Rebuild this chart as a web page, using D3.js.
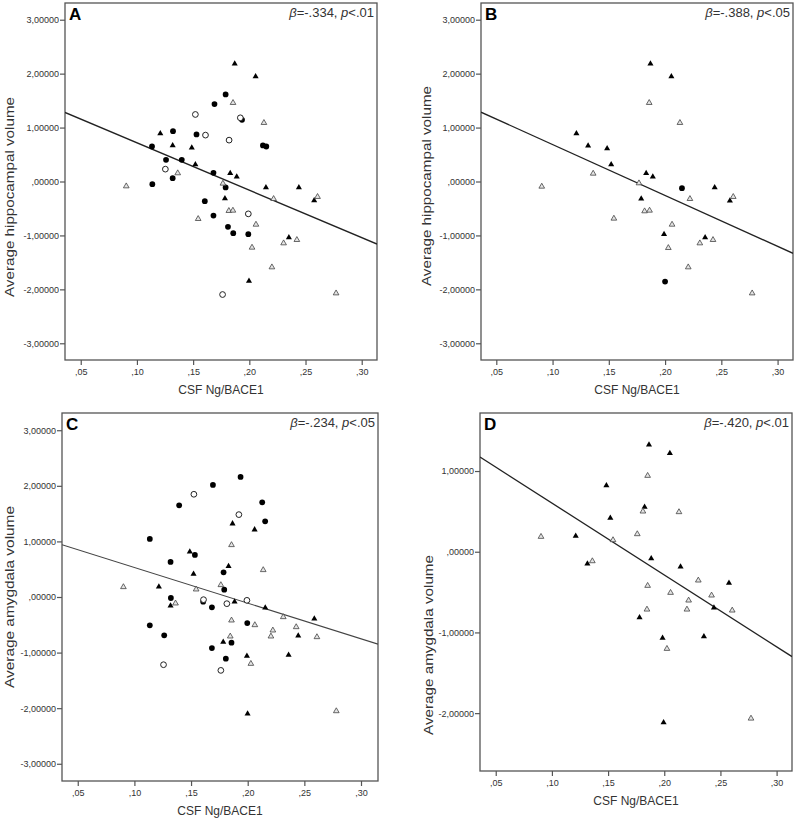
<!DOCTYPE html>
<html><head><meta charset="utf-8">
<script src="https://cdn.jsdelivr.net/npm/d3@7"></script>
<style>body{margin:0;background:#fff}svg{display:block}text{font-family:"Liberation Sans",Arial,sans-serif}</style>
</head><body><svg id="c" width="797" height="818"></svg>
<script>
// ---- data ----
const xTicks = [0.05, 0.10, 0.15, 0.20, 0.25, 0.30];
const xTickLabels = [",05", ",10", ",15", ",20", ",25", ",30"];
const yTicksWide = [3, 2, 1, 0, -1, -2, -3];
const yTickLabelsWide = ["3,00000", "2,00000", "1,00000", ",00000", "-1,00000", "-2,00000", "-3,00000"];
const yTicksD = [1, 0, -1, -2];
const yTickLabelsD = ["1,00000", ",00000", "-1,00000", "-2,00000"];
const panelLetters = ["A", "B", "C", "D"];
const betaValues = ["-.334", "-.388", "-.234", "-.420"];
const pValues = ["<.01", "<.05", "<.05", "<.01"];
const yTitles = ["Average hippocampal volume", "Average hippocampal volume", "Average amygdala volume", "Average amygdala volume"];
const xTitle = "CSF Ng/BACE1";
// fitted lines: intercept, slope
const fitIntercept = [1.5965, 1.6286, 1.1713, 1.493];
const fitSlope = [-8.791, -9.437, -6.410, -8.901];

// groups: ft = filled triangle, fc = filled circle, oc = open circle, ot = open triangle
const aX = [0.187,0.2056,0.1208,0.1318,0.1488,0.152,0.183,0.1888,0.1783,0.2148,0.2441,0.2577,0.2352,0.1997,
  0.1789,0.169,0.1935,0.1321,0.153,0.1134,0.2121,0.2151,0.1259,0.1399,0.1318,0.1681,0.1137,0.1789,0.1604,0.1681,0.181,0.1857,0.1991,
  0.152,0.192,0.161,0.182,0.1253,0.1991,0.1762,
  0.1855,0.213,0.1363,0.0905,0.1765,0.2216,0.2607,0.1818,0.1854,0.1545,0.2059,0.2305,0.2423,0.2024,0.2201,0.2772];
const aY = [2.183,1.948,0.891,0.668,0.625,0.315,0.155,0.087,-0.315,-0.111,-0.111,-0.352,-1.039,-1.843,
  1.614,1.435,1.144,0.934,0.872,0.649,0.668,0.649,0.402,0.402,0.062,0.161,-0.049,-0.111,-0.365,-0.631,-0.841,-0.959,-0.977,
  1.243,1.181,0.860,0.767,0.229,-0.600,-2.096,
  1.459,1.088,0.155,-0.087,-0.037,-0.322,-0.284,-0.544,-0.538,-0.693,-0.798,-1.144,-1.082,-1.224,-1.589,-2.072];
const aGroup = [].concat(Array(14).fill("ft"), Array(19).fill("fc"), Array(7).fill("oc"), Array(16).fill("ot"));

const bX = [0.1212,0.1316,0.1485,0.1521,0.187,0.2056,0.1832,0.1891,0.2441,0.2576,0.1788,0.1991,0.2356,
  0.215,0.20,
  0.1361,0.0904,0.1545,0.1859,0.2132,0.1768,0.2221,0.2606,0.1818,0.1862,0.2062,0.2309,0.2426,0.2029,0.2206,0.2774];
const bY = [0.891,0.662,0.612,0.315,2.183,1.948,0.155,0.087,-0.111,-0.359,-0.322,-0.977,-1.039,
  -0.124,-1.855,
  0.148,-0.093,-0.686,1.459,1.088,-0.031,-0.322,-0.284,-0.550,-0.538,-0.798,-1.144,-1.082,-1.231,-1.589,-2.072];
const bGroup = [].concat(Array(13).fill("ft"), Array(2).fill("fc"), Array(16).fill("ot"));

const cX = [0.1693,0.1395,0.1136,0.1534,0.1319,0.1787,0.1793,0.1322,0.1607,0.1684,0.1136,0.1263,0.1857,0.1684,0.1807,0.1937,0.2128,0.2154,0.1996,
  0.1525,0.161,0.1816,0.1257,0.1763,0.1922,0.1993,
  0.1866,0.1489,0.1831,0.1522,0.1216,0.1319,0.1884,0.1784,0.2061,0.2155,0.2588,0.2446,0.1993,0.2361,0.1999,
  0.1857,0.1763,0.1545,0.0903,0.1363,0.1857,0.1846,0.2137,0.2314,0.2063,0.2222,0.2205,0.2428,0.2611,0.2028,0.2782];
const cY = [2.016,1.650,1.044,0.756,0.630,0.444,0.132,-0.018,-0.084,-0.186,-0.510,-0.690,-0.822,-0.918,-1.110,2.160,1.704,1.362,-0.468,
  1.848,-0.048,-0.120,-1.218,-1.320,1.482,-0.060,
  1.320,0.816,0.552,0.414,0.186,-0.156,-0.084,-0.810,1.212,-0.192,-0.390,-0.696,-1.062,-1.044,-2.100,
  0.936,0.216,0.138,0.180,-0.114,-0.420,-0.708,0.486,-0.360,-0.504,-0.600,-0.708,-0.540,-0.720,-1.200,-2.052];
const cGroup = [].concat(Array(19).fill("fc"), Array(7).fill("oc"), Array(15).fill("ft"), Array(16).fill("ot"));

const dX = [0.1485,0.152,0.1212,0.1316,0.1864,0.205,0.1825,0.1884,0.2145,0.2576,0.2442,0.178,0.1985,0.2353,0.1994,
  0.0903,0.1544,0.136,0.1852,0.181,0.2131,0.176,0.2303,0.1852,0.2056,0.2421,0.2217,0.1846,0.2202,0.2605,0.2024,0.2772];
const dY = [0.822,0.417,0.194,-0.149,1.326,1.219,0.554,-0.083,-0.186,-0.388,-0.694,-0.814,-1.070,-1.050,-2.116,
  0.186,0.145,-0.116,0.942,0.500,0.492,0.219,-0.355,-0.421,-0.508,-0.541,-0.603,-0.715,-0.715,-0.727,-1.202,-2.066];
const dGroup = [].concat(Array(15).fill("ft"), Array(17).fill("ot"));

// ---- layout ----
const panels = [
  {x0:65, x1:377, y0:3, y1:360, xd:[0.036,0.3136], yd:[-3.31,3.31], yt:yTicksWide, ytl:yTickLabelsWide, X:aX, Y:aY, G:aGroup, titleX:14, titleY:197, titleLen:200},
  {x0:481, x1:793, y0:3, y1:360, xd:[0.0364,0.3137], yd:[-3.31,3.31], yt:yTicksWide, ytl:yTickLabelsWide, X:bX, Y:bY, G:bGroup, titleX:431, titleY:186, titleLen:200},
  {x0:62, x1:378, y0:413, y1:781, xd:[0.0361,0.315], yd:[-3.31,3.31], yt:yTicksWide, ytl:yTickLabelsWide, X:cX, Y:cY, G:cGroup, titleX:14, titleY:597, titleLen:182},
  {x0:480, x1:792, y0:413, y1:771, xd:[0.036,0.3137], yd:[-2.717,1.719], yt:yTicksD, ytl:yTickLabelsD, X:dX, Y:dY, G:dGroup, titleX:433, titleY:645, titleLen:180}
];

const svg = d3.select("#c");
svg.append("rect").attr("width",797).attr("height",818).attr("fill","#fff");
const frameColor = "#555";
const textColor = "#333";

const triangle = d3.symbol().type(d3.symbolTriangle).size(16);
const openTriangle = d3.symbol().type(d3.symbolTriangle).size(14);
const circle = d3.symbol().type(d3.symbolCircle).size(26);

panels.forEach((p, i) => {
  const x = d3.scaleLinear().domain(p.xd).range([p.x0, p.x1]);
  const y = d3.scaleLinear().domain(p.yd).range([p.y1, p.y0]);
  const g = svg.append("g");
  const clipId = "clip" + i;
  g.append("clipPath").attr("id", clipId).append("rect")
    .attr("x", p.x0).attr("y", p.y0).attr("width", p.x1 - p.x0).attr("height", p.y1 - p.y0);

  // axes
  const xAxis = d3.axisBottom(x).tickValues(xTicks).tickFormat((d, k) => xTickLabels[k]).tickSize(5).tickSizeOuter(0);
  const gx = g.append("g").attr("transform", `translate(0,${p.y1})`).call(xAxis);
  const yAxis = d3.axisLeft(y).tickValues(p.yt).tickFormat((d, k) => p.ytl[k]).tickSize(5).tickSizeOuter(0);
  const gy = g.append("g").attr("transform", `translate(${p.x0},0)`).call(yAxis);
  [gx, gy].forEach(ax => {
    ax.select(".domain").remove();
    ax.selectAll(".tick line").attr("stroke", frameColor).attr("stroke-width", 1.2);
    ax.selectAll(".tick text").attr("fill", textColor).attr("font-size", 9)
      .attr("font-family", '"Liberation Sans",Arial,sans-serif');
  });
  gx.selectAll(".tick text").attr("dy", null).attr("y", 15);
  gy.selectAll(".tick text").attr("x", -6);

  // frame
  g.append("rect").attr("x", p.x0).attr("y", p.y0).attr("width", p.x1 - p.x0).attr("height", p.y1 - p.y0)
    .attr("fill", "none").attr("stroke", frameColor).attr("stroke-width", 1.3);

  // fit line
  const ends = p.xd.map(v => [v, fitIntercept[i] + fitSlope[i] * v]);
  g.append("path").attr("clip-path", `url(#${clipId})`)
    .attr("d", d3.line().x(d => x(d[0])).y(d => y(d[1]))(ends))
    .attr("stroke", i === 2 ? "#444" : "#222").attr("stroke-width", i === 2 ? 1.1 : 1.3).attr("fill", "none");

  // points
  const pts = p.X.map((v, k) => ({x: v, y: p.Y[k], g: p.G[k]}));
  g.append("g").selectAll("path").data(pts).join("path")
    .attr("transform", d => `translate(${x(d.x)},${y(d.y)})`)
    .attr("d", d => (d.g === "fc" || d.g === "oc") ? circle() : (d.g === "ot" ? openTriangle() : triangle()))
    .attr("fill", d => d.g === "fc" || d.g === "ft" ? "#000" : (d.g === "oc" ? "#fff" : "#e4e4e4"))
    .attr("stroke", d => d.g === "fc" || d.g === "ft" ? "none" : (d.g === "oc" ? "#222" : "#444"))
    .attr("stroke-width", d => d.g === "oc" ? 1 : 0.8);

  // panel letter
  g.append("text").attr("x", p.x0 + 4).attr("y", p.y0 + 17).text(panelLetters[i])
    .attr("font-weight", "bold").attr("font-size", 17).attr("fill", "#000");

  // beta annotation
  const t = g.append("text").attr("x", p.x1 - 3).attr("y", p.y0 + 14).attr("text-anchor", "end")
    .attr("font-size", 13).attr("fill", textColor);
  t.append("tspan").attr("font-style", "italic").text("β");
  t.append("tspan").text("=" + betaValues[i] + ", ");
  t.append("tspan").attr("font-style", "italic").text("p");
  t.append("tspan").text(pValues[i]);

  // x title
  g.append("text").attr("x", (p.x0 + p.x1) / 2).attr("y", p.y1 + 34).attr("text-anchor", "middle")
    .attr("font-size", 12).attr("fill", textColor).text(xTitle);

  // y title
  g.append("text").attr("transform", `translate(${p.titleX},${p.titleY}) rotate(-90)`)
    .attr("text-anchor", "middle").attr("font-size", 13).attr("fill", textColor)
    .attr("textLength", p.titleLen).attr("lengthAdjust", "spacingAndGlyphs").text(yTitles[i]);
});
</script></body></html>
